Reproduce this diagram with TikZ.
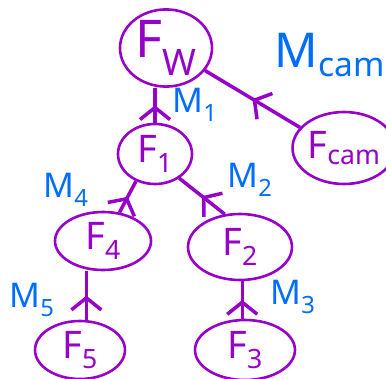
\documentclass[tikz,border=0pt]{standalone}
\usepackage{fontspec}
\setmainfont{Noto Sans}
\usetikzlibrary{shapes.geometric}
\usetikzlibrary{positioning}
\usetikzlibrary{arrows.meta}
\usetikzlibrary{decorations.markings}
\definecolor{inkpurple}{RGB}{150,0,200}
\definecolor{inkblue}{RGB}{0,110,250}
\tikzset{
ink/.style={draw=inkpurple, line width=3.5pt},
frame/.style 2 args={
	ellipse, draw=inkpurple, line width=2.6pt, text=inkpurple,
	minimum width=#1, minimum height=#2, inner sep=0pt,
	font=\fontsize{38}{38}\selectfont
},
upmark/.style={
	decoration={
		markings,
		mark=at position {0.5} with {
			\arrow{Straight Barb[length=12pt,width=30pt,line width=3.5pt]};
		}
	}, ink,
	postaction={decorate}
},
motion/.style={text=inkblue, font=\fontsize{34}{34}\selectfont},
}

\begin{document}
\begin{tikzpicture}[x=1pt,y=-1pt]
\useasboundingbox (0,0) rectangle (386,378);
%Place the frames
\node[frame={92pt}{74pt}, font=\fontsize{52}{52}\selectfont] (fw) at (166,48) {F\textsubscript{W}};
\node[frame={90pt}{72pt}] (fcam) at (344,148) {F\textsubscript{cam}};
\node[frame={74pt}{60pt}] (f1) at (155,154) {F\textsubscript{1}};
\node[frame={96pt}{58pt}] (f4) at (103,241) {F\textsubscript{4}};
\node[frame={104pt}{66pt}] (f2) at (240,247) {F\textsubscript{2}};
\node[frame={90pt}{58pt}] (f5) at (80,350) {F\textsubscript{5}};
\node[frame={100pt}{60pt}] (f3) at (245,350) {F\textsubscript{3}};

%Transforms
\node[motion, font=\fontsize{48}{48}\selectfont] (mcam) at (330,55) {M\textsubscript{cam}};
\node[motion] (m1) at (195,105) {M\textsubscript{1}};
\node[motion] (m2) at (250,180) {M\textsubscript{2}};
\node[motion] (m4) at (66,190) {M\textsubscript{4}};
\node[motion] (m5) at (32,300) {M\textsubscript{5}};
\node[motion] (m3) at (293,297) {M\textsubscript{3}};

%Edges towards the parent frame
\draw[upmark] (f1.north) to (f1.north |- fw.south);
\draw[upmark] (fcam.155) to (fw.-30);
\draw[upmark] (f4.60) to (f1.-125);
\draw[upmark] (f2.115) to (f1.-45);
\draw[upmark] (f5.78) to (f5.78 |- f4.south);
\draw[upmark] (f3.95) to (f3.95 |- f2.south);

\end{tikzpicture}
\end{document}
